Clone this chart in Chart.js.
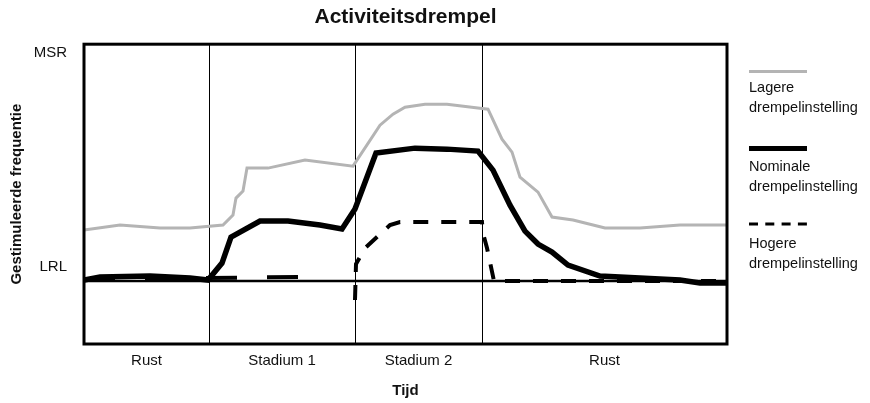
<!DOCTYPE html>
<html>
<head>
<meta charset="utf-8">
<script src="https://cdn.jsdelivr.net/npm/chart.js@4.4.0/dist/chart.umd.min.js"></script>
<style>
  html, body { margin: 0; padding: 0; background: #fff; }
  #wrap { position: relative; width: 870px; height: 403px; overflow: hidden; }
  #chart { position: absolute; left: 0; top: 0; }
  .lg-text { position: absolute; left: 749px; font-family: "Liberation Sans", Arial, sans-serif;
             font-size: 14.5px; line-height: 20px; color: #111; white-space: nowrap; }
  .lg-line { position: absolute; left: 749px; width: 58px; }
</style>
</head>
<body>
<div id="wrap">
  <canvas id="chart" width="811" height="403"></canvas>

  <!-- legend (hand built, the chart.js one can't stack sample over 2-line text) -->
  <div class="lg-line" style="top:70px;height:3px;background:#b4b4b4"></div>
  <div class="lg-text" style="top:77px">Lagere<br>drempelinstelling</div>
  <div class="lg-line" style="top:146px;height:5px;background:#000"></div>
  <div class="lg-text" style="top:156px">Nominale<br>drempelinstelling</div>
  <svg class="lg-line" style="top:222px" width="58" height="4">
    <line x1="0" y1="2" x2="58" y2="2" stroke="#000" stroke-width="3" stroke-dasharray="9 7.3"/>
  </svg>
  <div class="lg-text" style="top:233px">Hogere<br>drempelinstelling</div>
</div>

<script>
// Phases along the time axis
const phaseNames = ['Rust', 'Stadium 1', 'Stadium 2', 'Rust'];
const phaseBounds = [0, 125, 271, 398, 643];

// y ticks (value = height above LRL)
const yTickLabels = ['LRL', 'MSR'];
const yTickValues = [14, 228];

// Lagere drempelinstelling (grey)
const lagereT = [0, 36, 76, 106, 139, 149, 152, 159, 163, 184, 221, 269, 296, 309, 321, 341, 363, 396, 404, 418, 428, 436, 454, 468, 489, 521, 556, 596, 643];
const lagereV = [51, 56, 53, 53, 56, 66, 83, 90, 113, 113, 121, 115, 156, 167, 174, 177, 177, 173, 172, 142, 129, 104, 89, 64, 61, 53, 53, 56, 56];

// Nominale drempelinstelling (thick black)
const nominaleT = [0, 16, 66, 106, 124, 138, 147, 176, 204, 236, 258, 271, 292, 331, 363, 394, 409, 426, 441, 454, 468, 484, 516, 556, 596, 616, 643];
const nominaleV = [1, 4, 5, 3, 1, 18, 44, 60, 60, 56, 52, 72, 128, 133, 132, 130, 111, 76, 50, 37, 29, 16, 5, 3, 1, -2, -2];

// Hogere drempelinstelling (dashed), null = line break
const hogereT = [0, 216, 230, 271, 272, 281, 306, 316, 398, 399, 403, 410, 643];
const hogereV = [2, 4, null, -19, 17, 33, 56, 59, 59, 48, 33, 0, 0];

// LRL baseline
const lrlT = [0, 643];
const lrlV = [0, 0];

function pts(t, v) {
  return t.map((x, i) => ({ x: x, y: v[i] }));
}

// x tick positions: phase borders + midpoints (midpoints carry the names)
const xTicks = [];
const xLabels = {};
for (let i = 0; i < phaseNames.length; i++) {
  const mid = (phaseBounds[i] + phaseBounds[i + 1]) / 2;
  xTicks.push(phaseBounds[i], mid);
  xLabels[mid] = phaseNames[i];
}
xTicks.push(phaseBounds[phaseBounds.length - 1]);

const FONT = '"Liberation Sans", Arial, sans-serif';

const framePlugin = {
  id: 'frame',
  afterDatasetsDraw(chart) {
    const { ctx, chartArea: a } = chart;
    ctx.save();
    ctx.strokeStyle = '#000';
    ctx.lineWidth = 3;
    ctx.strokeRect(a.left, a.top, a.right - a.left, a.bottom - a.top);
    ctx.restore();
  }
};

new Chart(document.getElementById('chart').getContext('2d'), {
  type: 'line',
  data: {
    datasets: [
      {
        label: 'Nominale drempelinstelling',
        data: pts(nominaleT, nominaleV),
        borderColor: '#000',
        borderWidth: 5.5,
        order: 1
      },
      {
        label: 'Hogere drempelinstelling',
        data: pts(hogereT, hogereV),
        borderColor: '#000',
        borderWidth: 4,
        spanGaps: false,
        borderCapStyle: 'butt',
        segment: {
          borderDash: ctx => ctx.p0.parsed.x < 250 ? [31, 30] : [15, 13]
        },
        order: 2
      },
      {
        label: 'Lagere drempelinstelling',
        data: pts(lagereT, lagereV),
        borderColor: '#b4b4b4',
        borderWidth: 3,
        order: 3
      },
      {
        label: 'LRL',
        data: pts(lrlT, lrlV),
        borderColor: '#000',
        borderWidth: 2.5,
        order: 4
      }
    ]
  },
  options: {
    responsive: false,
    devicePixelRatio: 1,
    animation: false,
    layout: { padding: 0, autoPadding: false },
    elements: {
      point: { radius: 0, hoverRadius: 0 },
      line: { tension: 0, borderJoinStyle: 'miter' }
    },
    plugins: {
      legend: { display: false },
      tooltip: { enabled: false },
      title: {
        display: true,
        text: 'Activiteitsdrempel',
        color: '#111',
        font: { family: FONT, size: 21, weight: 'bold' },
        padding: { top: 5, bottom: 14 }
      }
    },
    scales: {
      x: {
        type: 'linear',
        min: phaseBounds[0],
        max: phaseBounds[phaseBounds.length - 1],
        afterBuildTicks: s => { s.ticks = xTicks.map(v => ({ value: v })); },
        afterFit: s => { s.height = 59; },
        border: { display: false },
        grid: {
          drawTicks: false,
          lineWidth: 1,
          color: ctx => (ctx.tick && xLabels[ctx.tick.value] === undefined) ? '#000' : 'rgba(0,0,0,0)'
        },
        ticks: {
          autoSkip: false,
          maxRotation: 0,
          padding: 8,
          color: '#111',
          font: { family: FONT, size: 15 },
          callback: v => xLabels[v] || ''
        },
        title: {
          display: true,
          text: 'Tijd',
          color: '#111',
          font: { family: FONT, size: 15, weight: 'bold' },
          padding: { top: 0, bottom: 3 }
        }
      },
      y: {
        min: -63,
        max: 237,
        afterBuildTicks: s => { s.ticks = yTickValues.map(v => ({ value: v })); },
        afterFit: s => { s.width = 84; },
        border: { display: false },
        grid: { display: false, drawTicks: false },
        ticks: {
          padding: 17,
          color: '#111',
          font: { family: FONT, size: 15 },
          callback: (v, i) => yTickLabels[i]
        },
        title: {
          display: true,
          text: 'Gestimuleerde frequentie',
          color: '#111',
          font: { family: FONT, size: 15, weight: 'bold' },
          padding: { top: 8 }
        }
      },
      // empty right-hand axis, only reserves room so the plot (and title) sit like the original
      yRight: {
        position: 'right',
        min: -63,
        max: 237,
        afterFit: s => { s.width = 84; },
        border: { display: false },
        grid: { display: false, drawTicks: false },
        ticks: { display: false }
      }
    }
  },
  plugins: [framePlugin]
});
</script>
</body>
</html>
